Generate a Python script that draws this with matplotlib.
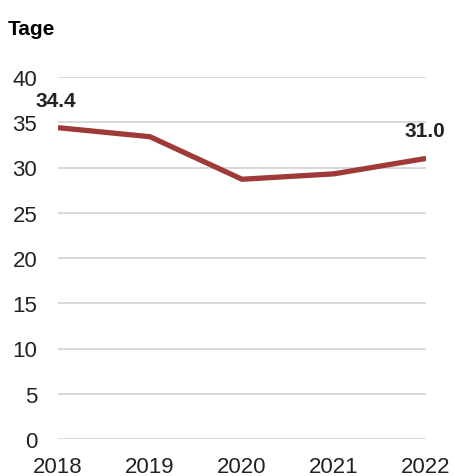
import matplotlib.pyplot as plt

plt.rcParams['font.family'] = ['Liberation Sans', 'DejaVu Sans']

years = ['2018', '2019', '2020', '2021', '2022']
tage = [34.4, 33.4, 28.7, 29.3, 31.0]
y_ticks = [0, 5, 10, 15, 20, 25, 30, 35, 40]

fig = plt.figure(figsize=(4.55, 4.77), dpi=100)
ax = fig.add_axes([58 / 455, 37 / 477, 368 / 455, 362 / 477])

x = list(range(len(years)))
ax.plot(x, tage, color='#9E3A37', linewidth=3.8, solid_capstyle='butt', zorder=3)

ax.set_xlim(0, len(years) - 1)
ax.set_ylim(0, 40)
ax.set_yticks(y_ticks)
ax.set_xticks(x)
ax.set_xticklabels(years)
ax.tick_params(axis='y', length=0, pad=15, labelsize=16, colors='#222222')
ax.tick_params(axis='x', length=0, pad=12, labelsize=16, colors='#222222')
ax.grid(axis='y', color='#CFCFCF', linewidth=1.1)
ax.set_axisbelow(True)
for s in ax.spines.values():
    s.set_visible(False)

# first and last values
ax.annotate(f'{tage[0]:.1f}', (x[0], tage[0]), xytext=(-1.5, 15.6), textcoords='offset points',
            ha='center', va='baseline', fontsize=15, fontweight='bold', color='#222222')
ax.annotate(f'{tage[-1]:.1f}', (x[-1], tage[-1]), xytext=(-1, 16.2), textcoords='offset points',
            ha='center', va='baseline', fontsize=15, fontweight='bold', color='#222222')

fig.text(8 / 455, 1 - 35 / 477, 'Tage', fontsize=15, fontweight='bold', va='baseline', ha='left')

fig.savefig('out.png', dpi=100)
